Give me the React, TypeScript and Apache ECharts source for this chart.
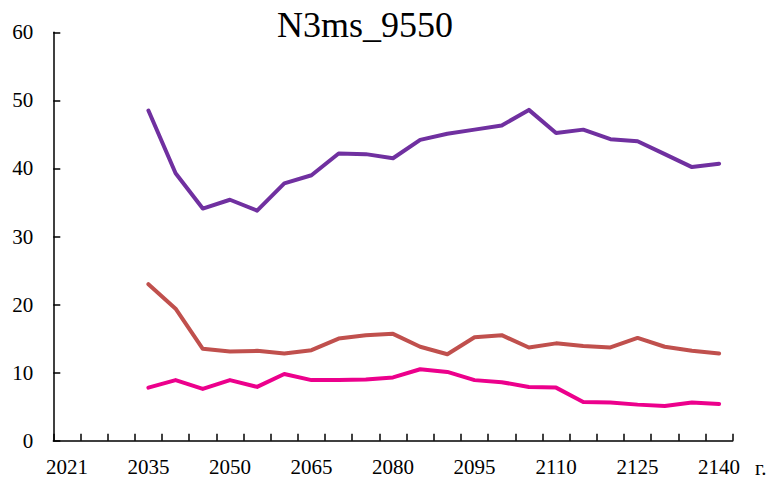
import React, { useEffect, useRef } from "react";
import * as echarts from "echarts";

const categories: string[] = [
  "2021", "2025", "2030", "2035", "2040", "2045", "2050", "2055", "2060", "2065",
  "2070", "2075", "2080", "2085", "2090", "2095", "2100", "2105", "2110", "2115",
  "2120", "2125", "2130", "2135", "2140",
];

const purpleSeries: (number | null)[] = [
  null, null, null,
  48.5, 39.3, 34.1, 35.4, 33.8, 37.8, 39.0, 42.2, 42.1, 41.5, 44.2,
  45.1, 45.7, 46.3, 48.6, 45.2, 45.7, 44.3, 44.0, 42.1, 40.2, 40.7,
];

const redSeries: (number | null)[] = [
  null, null, null,
  23.0, 19.4, 13.5, 13.1, 13.2, 12.8, 13.3, 15.0, 15.5, 15.7, 13.8,
  12.7, 15.2, 15.5, 13.7, 14.3, 13.9, 13.7, 15.1, 13.8, 13.2, 12.8,
];

const pinkSeries: (number | null)[] = [
  null, null, null,
  7.8, 8.9, 7.6, 8.9, 7.9, 9.8, 8.9, 8.9, 9.0, 9.3, 10.5,
  10.1, 8.9, 8.6, 7.9, 7.8, 5.7, 5.6, 5.3, 5.1, 5.6, 5.4,
];

const titleText = "N3ms_9550";
const xUnit = "г.";

const FONT = "'Liberation Serif', 'Times New Roman', serif";

export default function App() {
  const ref = useRef<HTMLDivElement>(null);

  useEffect(() => {
    if (!ref.current) return;
    const chart = echarts.init(ref.current, null, { renderer: "svg" });
    const lineStyle = (color: string) => ({ color, width: 4, cap: "round" as const, join: "round" as const });
    chart.setOption({
      animation: false,
      backgroundColor: "#ffffff",
      title: {
        text: titleText,
        left: 272,
        top: 2,
        textStyle: { fontFamily: FONT, fontSize: 36, fontWeight: "normal", color: "#000" },
      },
      grid: { left: 53.3, right: 43.3, top: 32.3, bottom: 40.3, containLabel: false },
      xAxis: {
        type: "category",
        data: categories,
        boundaryGap: true,
        axisLine: { lineStyle: { color: "#000", width: 1.5 } },
        axisTick: { show: true, inside: true, length: 7, interval: 0, lineStyle: { color: "#000", width: 1.5 } },
        axisLabel: {
          interval: 2,
          margin: 16,
          fontFamily: FONT,
          fontSize: 21,
          color: "#000",
        },
        splitLine: { show: false },
      },
      yAxis: {
        type: "value",
        min: 0,
        max: 60,
        interval: 10,
        axisLine: { show: true, lineStyle: { color: "#000", width: 1.5 } },
        axisTick: { show: true, inside: true, length: 7, lineStyle: { color: "#000", width: 1.5 } },
        axisLabel: { margin: 20, fontFamily: FONT, fontSize: 21, color: "#000" },
        splitLine: { show: false },
      },
      graphic: [
        {
          type: "text",
          left: 755,
          top: 457,
          style: { text: xUnit, fontFamily: FONT, fontSize: 21, fill: "#000" },
        },
      ],
      series: [
        { type: "line", data: purpleSeries, showSymbol: false, symbol: "none", lineStyle: lineStyle("#7030A0"), connectNulls: false },
        { type: "line", data: redSeries, showSymbol: false, symbol: "none", lineStyle: lineStyle("#C0504D") },
        { type: "line", data: pinkSeries, showSymbol: false, symbol: "none", lineStyle: lineStyle("#EC008C") },
      ],
    });
    return () => chart.dispose();
  }, []);

  return (
    <div
      ref={ref}
      style={{ position: "fixed", left: 0, top: 0, width: 776, height: 481 }}
    />
  );
}
